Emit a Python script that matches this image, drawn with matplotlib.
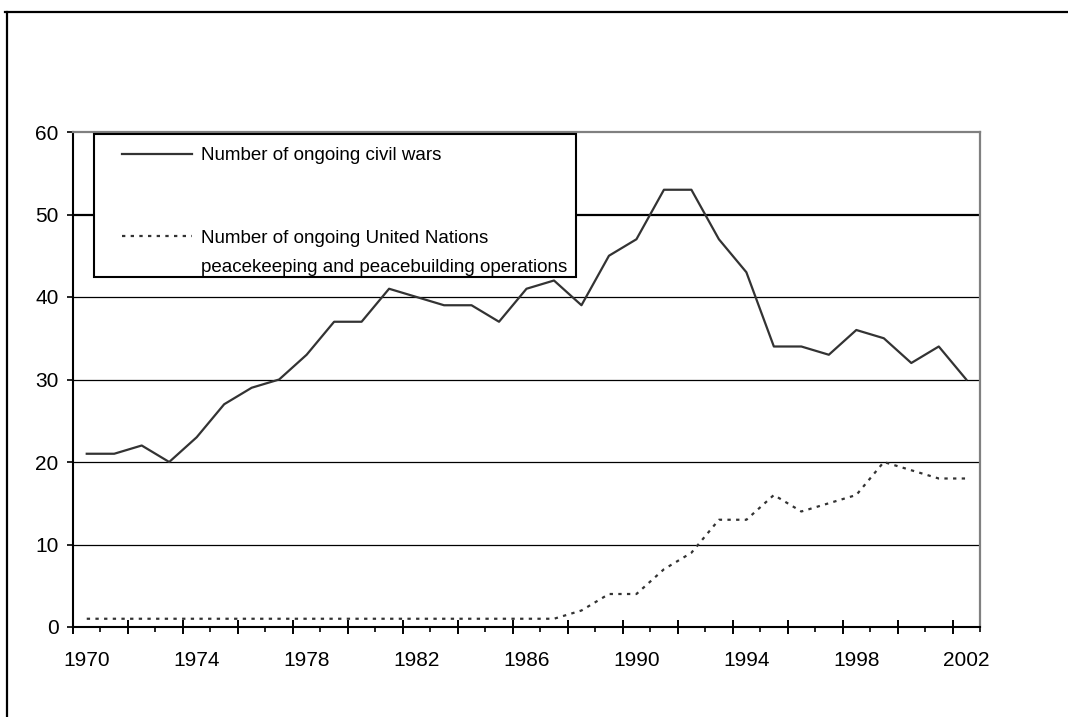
import numpy as np
import matplotlib
matplotlib.use('Agg')
import matplotlib.pyplot as plt
from matplotlib.lines import Line2D
from matplotlib.patches import Rectangle

plt.rcParams['font.family'] = ['Liberation Sans', 'DejaVu Sans']

# data
years = list(range(1970, 2003))
civil_wars = [21, 21, 22, 20, 23, 27, 29, 30, 33, 37, 37, 41, 40, 39, 39, 37, 41,
              42, 39, 45, 47, 53, 53, 47, 43, 34, 34, 33, 36, 35, 32, 34, 30]
un_operations = [1, 1, 1, 1, 1, 1, 1, 1, 1, 1, 1, 1, 1, 1, 1, 1, 1,
                 1, 2, 4, 4, 7, 9, 13, 13, 16, 14, 15, 16, 20, 19, 18, 18]
label_years = years[::4]
y_ticks = [0, 10, 20, 30, 40, 50, 60]

W, H = 1068, 717


def fx(px):
    return px / W


def fy(py):
    return 1 - py / H


fig = plt.figure(figsize=(W / 100, H / 100), dpi=100)
ax = fig.add_axes([fx(73), fy(627), fx(980) - fx(73), fy(132) - fy(627)])

x = np.arange(len(years))
line_col = '#333333'
dots = (0, (1.5, 2.4))
ax.plot(x, civil_wars, color=line_col, lw=1.6, zorder=3)
ax.plot(x, un_operations, color=line_col, lw=1.6, linestyle=dots, zorder=3)

ax.set_xlim(-0.5, len(years) - 0.5)
ax.set_ylim(0, 60)

# horizontal gridlines (the 50 line renders heavier in the original)
for v in y_ticks[1:-1]:
    ax.axhline(v, color='black', lw=1.6 if v == 50 else 0.9, zorder=1)

# spines
for s in ['left', 'bottom']:
    ax.spines[s].set_color('black')
    ax.spines[s].set_linewidth(1.5)
for s in ['top', 'right']:
    ax.spines[s].set_color('#808080')
    ax.spines[s].set_linewidth(1.6)

# y axis
ax.set_yticks(y_ticks)
ax.set_yticklabels([str(v) for v in y_ticks], fontsize=15)
ax.tick_params(axis='y', direction='out', length=4.3, width=1.2, pad=6)

# x axis: ticks at category boundaries, labels every 4 years
ax.set_xticks(np.arange(-0.5, len(years), 2))
ax.set_xticks(np.arange(0.5, len(years) + 0.5, 2), minor=True)
ax.set_xticklabels([])
ax.tick_params(axis='x', which='major', direction='inout', length=9.5, width=1.4)
ax.tick_params(axis='x', which='minor', direction='out', length=3.4, width=1.2)

sec = ax.secondary_xaxis('bottom')
sec.set_xticks([years.index(y) for y in label_years])
sec.set_xticklabels([str(y) for y in label_years], fontsize=15)
sec.tick_params(length=0, pad=17)
sec.spines['bottom'].set_visible(False)

# legend box
fig.patches.append(Rectangle((fx(94), fy(277)), fx(576) - fx(94), fy(134) - fy(277),
                             transform=fig.transFigure, facecolor='white',
                             edgecolor='black', lw=1.5, zorder=5))
fig.lines.append(Line2D([fx(122), fx(192)], [fy(154), fy(154)], transform=fig.transFigure,
                        color=line_col, lw=1.6, zorder=6))
fig.lines.append(Line2D([fx(122), fx(192)], [fy(236), fy(236)], transform=fig.transFigure,
                        color=line_col, lw=1.6, linestyle=dots, zorder=6))
fig.text(fx(201), fy(160), 'Number of ongoing civil wars', fontsize=13.5,
         va='baseline', ha='left', zorder=6)
fig.text(fx(201), fy(243), 'Number of ongoing United Nations', fontsize=13.5,
         va='baseline', ha='left', zorder=6)
fig.text(fx(201), fy(272), 'peacekeeping and peacebuilding operations', fontsize=13.5,
         va='baseline', ha='left', zorder=6)

# outer frame (top and left edges)
fig.lines.append(Line2D([fx(5), fx(W)], [fy(12), fy(12)], transform=fig.transFigure,
                        color='black', lw=1.6))
fig.lines.append(Line2D([fx(7), fx(7)], [fy(12), fy(H)], transform=fig.transFigure,
                        color='black', lw=1.6))

fig.savefig('out.png', dpi=100)
